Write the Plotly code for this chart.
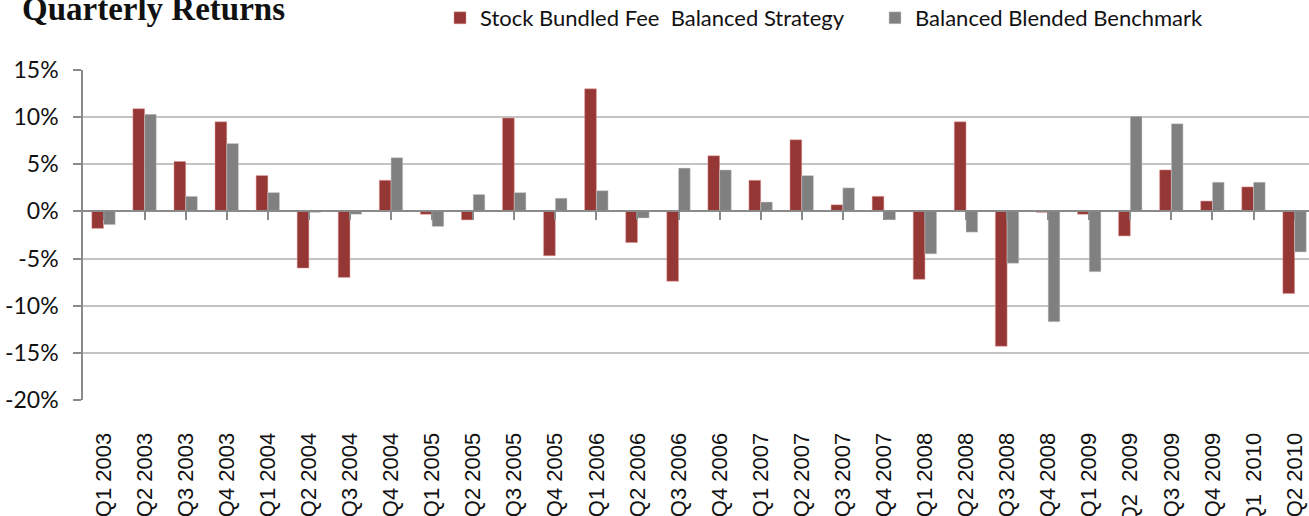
import plotly.graph_objects as go

quarters = ["Q1 2003", "Q2 2003", "Q3 2003", "Q4 2003", "Q1 2004", "Q2 2004", "Q3 2004", "Q4 2004",
            "Q1 2005", "Q2 2005", "Q3 2005", "Q4 2005", "Q1 2006", "Q2 2006", "Q3 2006", "Q4 2006",
            "Q1 2007", "Q2 2007", "Q3 2007", "Q4 2007", "Q1 2008", "Q2 2008", "Q3 2008", "Q4 2008",
            "Q1 2009", "Q2\u00a0 2009", "Q3 2009", "Q4 2009", "Q1\u00a0 2010", "Q2 2010"]

strategy = [-1.8, 10.9, 5.3, 9.5, 3.8, -6.0, -7.0, 3.3,
            -0.3, -0.9, 9.9, -4.7, 13.0, -3.3, -7.4, 5.9,
            3.3, 7.6, 0.7, 1.6, -7.2, 9.5, -14.3, -0.1,
            -0.3, -2.6, 4.4, 1.1, 2.6, -8.7]

benchmark = [-1.4, 10.3, 1.6, 7.2, 2.0, -0.1, -0.3, 5.7,
             -1.6, 1.8, 2.0, 1.4, 2.2, -0.7, 4.6, 4.4,
             1.0, 3.8, 2.5, -0.9, -4.5, -2.2, -5.5, -11.7,
             -6.4, 10.1, 9.3, 3.1, 3.1, -4.3]

y_ticks = [-20, -15, -10, -5, 0, 5, 10, 15]
y_labels = [f"{v}%" for v in y_ticks]

RED = "#953735"
GRAY = "#808080"
AXIS = "#8a8a8a"
GRID = "#c3c3c3"

W, H = 1309, 516
ML, MT, MB, MR = 83, 70, 116, 0
cat_w = 41.07
plot_w = W - ML - MR
plot_h = H - MT - MB
x_max = -0.5 + plot_w / cat_w

fig = go.Figure()
fig.add_trace(go.Bar(x=list(range(len(quarters))), y=strategy,
                     name="Stock Bundled Fee\u00a0 Balanced Strategy",
                     marker=dict(color=RED, line=dict(color="rgba(230,150,150,0.6)", width=0.8))))
fig.add_trace(go.Bar(x=list(range(len(quarters))), y=benchmark,
                     name="Balanced Blended Benchmark",
                     marker=dict(color=GRAY, line=dict(color="rgba(210,210,210,0.6)", width=0.8))))

y_min, y_max = -20, 15
zero_pos = (0 - y_min) / (y_max - y_min)

fig.update_layout(
    width=W, height=H,
    margin=dict(l=ML, r=MR, t=MT, b=MB, pad=0, autoexpand=False),
    paper_bgcolor="white", plot_bgcolor="white",
    barmode="group", bargap=0.43, bargroupgap=0,
    showlegend=True,
    legend=dict(orientation="h", xref="container", yref="container",
                x=440 / W, xanchor="left",
                y=1 - 18 / H, yanchor="middle",
                font=dict(family="Lato", size=22, color="#111111"),
                entrywidth=390, entrywidthmode="pixels",
                bgcolor="rgba(0,0,0,0)", traceorder="normal"),
    xaxis=dict(range=[-0.5, x_max], tickmode="array", automargin=False,
               tickvals=list(range(len(quarters))), ticktext=quarters,
               tickangle=-90, ticks="outside", ticklen=23, tickcolor="rgba(0,0,0,0)",
               showline=False, showgrid=False, zeroline=False,
               tickfont=dict(family="Liberation Sans", size=22, color="#111111")),
    xaxis2=dict(overlaying="x", matches="x", anchor="free", position=zero_pos,
                side="bottom", showline=True, linecolor=AXIS, linewidth=1.5, automargin=False,
                tickmode="array", tickvals=list(range(len(quarters))),
                tickson="boundaries", ticks="outside", ticklen=8, tickwidth=1.5,
                tickcolor=AXIS, showticklabels=False, showgrid=False, zeroline=False),
    yaxis=dict(range=[y_min, y_max], tickmode="array", tickvals=y_ticks, ticktext=y_labels,
               automargin=False,
               showgrid=True, gridcolor=GRID, gridwidth=1.5, zeroline=False,
               showline=True, linecolor=AXIS, linewidth=1.5,
               ticks="outside", ticklen=8, tickwidth=1.5, tickcolor=AXIS,
               ticklabelstandoff=10,
               tickfont=dict(family="Lato", size=23, color="#111111")),
    annotations=[dict(text="<b>Quarterly Returns</b>", xref="paper", yref="paper",
                      x=(20 - ML) / plot_w, y=1 + (MT - 8.5) / plot_h,
                      xanchor="left", yanchor="middle", showarrow=False,
                      font=dict(family="Liberation Serif", size=33, color="#111111"))],
)

# invisible helper trace so the zero-crossing category axis renders
fig.add_trace(go.Scatter(x=[0], y=[0], xaxis="x2", mode="markers",
                         marker=dict(opacity=0), showlegend=False, hoverinfo="skip"))

fig.write_html("out.html", config={"displayModeBar": False},
               post_script="document.body.style.margin='0';document.body.style.overflow='hidden';")
